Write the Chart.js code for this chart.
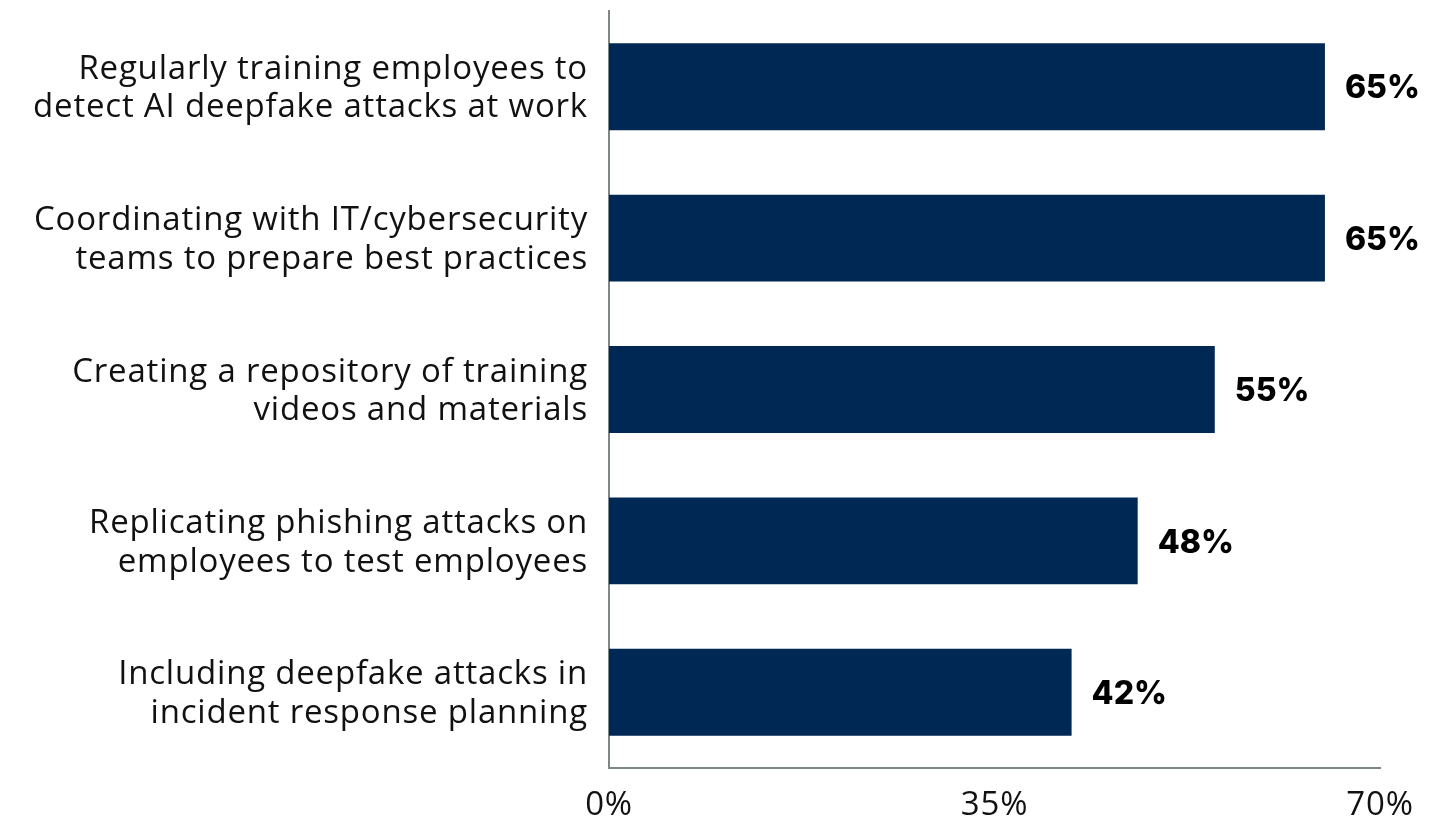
<!DOCTYPE html>
<html>
<head>
<meta charset="utf-8">
<script src="https://cdn.jsdelivr.net/npm/chart.js@4.4.1/dist/chart.umd.min.js"></script>
<style>
  html, body { margin: 0; padding: 0; background: #fff; }
  #wrap { width: 1453px; height: 821px; }
</style>
</head>
<body>
<div id="wrap"><canvas id="chart" width="1453" height="821"></canvas></div>
<script>
const categories = [
    ['Regularly training employees to', 'detect AI deepfake attacks at work'],
    ['Coordinating with IT/cybersecurity', 'teams to prepare best practices'],
    ['Creating a repository of training', 'videos and materials'],
    ['Replicating phishing attacks on', 'employees to test employees'],
    ['Including deepfake attacks in', 'incident response planning']
];
const values = [65, 65, 55, 48, 42];
const tickValues = [0, 35, 70];

const BAR = '#002855';
const AXIS = '#7f8786';
const SPACING = '0.8px';

// slightly wider text, closer to the original typeface
const spacing = {
    id: 'spacing',
    beforeLayout(chart) { chart.ctx.letterSpacing = SPACING; },
    beforeDraw(chart) { chart.ctx.letterSpacing = SPACING; }
};

// draw the bold % next to each bar
const valueLabels = {
    id: 'valueLabels',
    afterDatasetsDraw(chart) {
        const ctx = chart.ctx;
        const meta = chart.getDatasetMeta(0);
        ctx.save();
        ctx.letterSpacing = '0px';
        ctx.font = '800 32px Inter';
        ctx.fillStyle = '#000';
        ctx.textAlign = 'left';
        ctx.textBaseline = 'middle';
        meta.data.forEach((bar, i) => {
            ctx.fillText(values[i] + '%', bar.x + 20, bar.y + 2);
        });
        ctx.restore();
    }
};

new Chart(document.getElementById('chart'), {
    type: 'bar',
    data: {
        labels: categories,
        datasets: [{
            data: values,
            backgroundColor: BAR,
            barPercentage: 0.574,
            categoryPercentage: 1
        }]
    },
    options: {
        indexAxis: 'y',
        responsive: false,
        animation: false,
        layout: { padding: { top: 11, right: 73, left: 0, bottom: 0 } },
        plugins: { legend: { display: false }, tooltip: { enabled: false } },
        scales: {
            x: {
                min: 0, max: 70,
                afterBuildTicks(axis) { axis.ticks = tickValues.map(v => ({ value: v })); },
                afterFit(axis) {
                    axis.height = 53;
                    axis.paddingLeft = 0;
                    axis.paddingRight = 0;
                },
                grid: { display: false, drawTicks: false },
                border: { color: AXIS, width: 2 },
                ticks: {
                    padding: 18,
                    color: '#111',
                    maxRotation: 0,
                    font: { family: 'Open Sans', size: 33 },
                    callback: v => v + '%'
                }
            },
            y: {
                afterFit(axis) {
                    axis.width = 609;
                    axis.paddingTop = 0;
                    axis.paddingBottom = 0;
                },
                grid: { display: false, drawTicks: false },
                border: { color: AXIS, width: 2 },
                ticks: {
                    padding: 21,
                    labelOffset: 2,
                    color: '#111',
                    font: { family: 'Open Sans', size: 33, lineHeight: 1.17 }
                }
            }
        }
    },
    plugins: [spacing, valueLabels]
});
</script>
</body>
</html>
